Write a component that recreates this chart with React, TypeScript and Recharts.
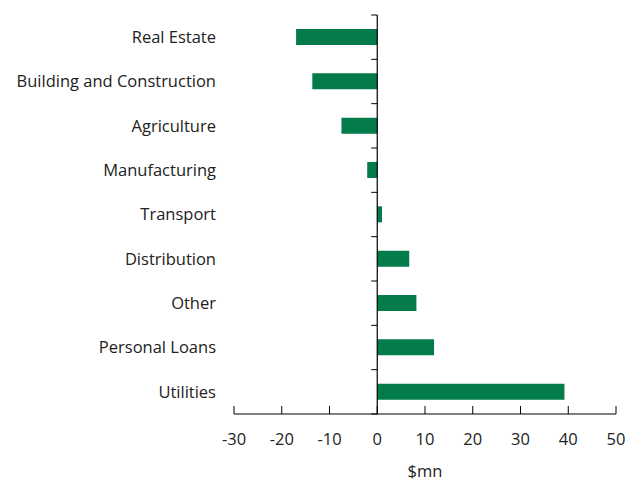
import { Bar, BarChart, ReferenceLine, XAxis, YAxis } from "recharts";

const sectors = [
  "Real Estate",
  "Building and Construction",
  "Agriculture",
  "Manufacturing",
  "Transport",
  "Distribution",
  "Other",
  "Personal Loans",
  "Utilities",
];
const changes = [-17.0, -13.6, -7.5, -2.1, 1.0, 6.7, 8.2, 11.9, 39.2];
const xTicks = [-30, -20, -10, 0, 10, 20, 30, 40, 50];

const data = sectors.map((name, i) => ({ name, value: changes[i] }));

const FONT = "'Open Sans', Lato, sans-serif";
const GREEN = "#037b4b";

// vertical zero line with small ticks at the category band edges
function ZeroAxis(props: any) {
  const { x1, y1, x2, y2 } = props;
  const top = Math.min(y1, y2);
  const bottom = Math.max(y1, y2);
  const step = (bottom - top) / sectors.length;
  const marks = [];
  for (let i = 0; i <= sectors.length; i++) {
    const y = top + step * i;
    marks.push(
      <line key={i} x1={x1 - 6} x2={x1} y1={y} y2={y} stroke="#000" strokeWidth={1} />
    );
  }
  return (
    <g>
      <line x1={x1} x2={x2} y1={y1} y2={y2} stroke="#000" strokeWidth={1.2} />
      {marks}
    </g>
  );
}

export default function App() {
  return (
    <div style={{ position: "absolute", left: 0, top: 0, background: "#fff" }}>
      <BarChart
        width={627}
        height={484}
        data={data}
        layout="vertical"
        margin={{ top: 15, right: 11, bottom: 0, left: 0 }}
      >
        <XAxis
          type="number"
          domain={[-30, 50]}
          ticks={xTicks}
          interval={0}
          height={70}
          tickSize={-8}
          tickMargin={27}
          axisLine={{ stroke: "#000" }}
          tickLine={{ stroke: "#000" }}
          tick={{ fill: "#222", fontSize: 16.5, fontFamily: FONT }}
          label={{
            value: "$mn",
            position: "insideBottom",
            offset: 0,
            dy: -7,
            fill: "#222",
            fontSize: 16.5,
            fontFamily: FONT,
          }}
        />
        <YAxis
          type="category"
          dataKey="name"
          width={234}
          axisLine={false}
          tickLine={false}
          tickSize={6}
          tickMargin={12}
          interval={0}
          tick={{ fill: "#222", fontSize: 16.5, fontFamily: FONT }}
        />
        <Bar dataKey="value" fill={GREEN} barSize={16} isAnimationActive={false} />
        <ReferenceLine x={0} shape={ZeroAxis} />
      </BarChart>
    </div>
  );
}
